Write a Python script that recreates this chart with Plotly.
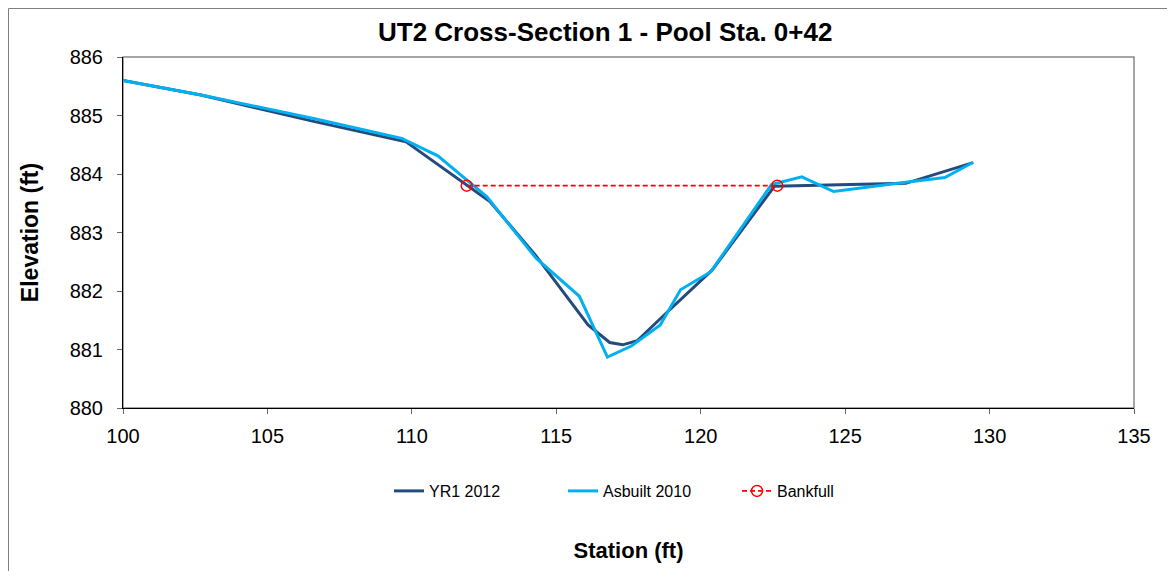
import plotly.graph_objects as go

# YR1 2012 survey
yr1_station = [100.0, 102.7, 106.6, 109.8, 112.7, 114.3, 116.1, 116.85, 117.3, 117.8, 118.8, 120.4, 122.55, 125.7, 127.1, 129.4]
yr1_elev = [885.60, 885.35, 884.90, 884.55, 883.53, 882.60, 881.42, 881.12, 881.08, 881.15, 881.62, 882.36, 883.79, 883.82, 883.84, 884.19]

# Asbuilt 2010 survey
asb_station = [100.0, 102.7, 106.6, 109.65, 110.9, 112.6, 114.3, 115.8, 116.77, 117.6, 118.6, 119.3, 120.35, 122.45, 123.5, 124.6, 127.1, 128.45, 129.44]
asb_elev = [885.60, 885.35, 884.95, 884.61, 884.31, 883.61, 882.56, 881.91, 880.87, 881.06, 881.42, 882.02, 882.33, 883.82, 883.95, 883.70, 883.86, 883.94, 884.20]

# Bankfull
bkf_station = [111.9, 122.65]
bkf_elev = [883.8, 883.8]

title_text = "UT2 Cross-Section 1 - Pool Sta. 0+42"
x_title = "Station (ft)"
y_title = "Elevation (ft)"

FONT = "Liberation Sans, Arial, sans-serif"

fig = go.Figure()
fig.add_trace(go.Scatter(x=yr1_station, y=yr1_elev, mode="lines", name="YR1 2012",
                         line=dict(color="#254A7E", width=3)))
fig.add_trace(go.Scatter(x=asb_station, y=asb_elev, mode="lines", name="Asbuilt 2010",
                         line=dict(color="#00B0F0", width=3)))
fig.add_trace(go.Scatter(x=bkf_station, y=bkf_elev, mode="lines+markers", name="Bankfull",
                         line=dict(color="#FF0000", width=1.8, dash="5px,3px"),
                         marker=dict(symbol="circle-open", size=11, color="#FF0000",
                                     line=dict(width=1.5, color="#FF0000"))))

OFF = 8  # page body offset
W, H = 1175, 571
# desired screen positions of the plot area
sl, sr, st, sb = 123, 1134, 57, 408
L = sl - OFF
T = st - OFF
R = W - (sr - OFF)
B = H - (sb - OFF)
pw = W - L - R
ph = H - T - B

def px_x(p):
    return (p - OFF - L) / pw

def px_y(p):
    return (H - B - (p - OFF)) / ph

fig.update_layout(
    width=W, height=H,
    margin=dict(l=L, r=R, t=T, b=B, pad=0),
    paper_bgcolor="white", plot_bgcolor="white",
    font=dict(family=FONT, size=16, color="black"),
    showlegend=True,
    legend=dict(orientation="h", x=px_x(389), y=px_y(474), xanchor="left", yanchor="top",
                font=dict(size=16, family=FONT, color="black"),
                entrywidth=129, entrywidthmode="pixels", bgcolor="rgba(0,0,0,0)"),
    annotations=[dict(text="<b>" + title_text + "</b>", x=px_x(605), y=px_y(32),
                      xref="paper", yref="paper", xanchor="center", yanchor="middle",
                      showarrow=False, font=dict(size=26, family=FONT, color="black"))],
    shapes=[
        dict(type="rect", xref="paper", yref="paper", x0=0, x1=1, y0=0, y1=1,
             line=dict(color="#888888", width=1.5), layer="below"),
        dict(type="rect", xref="paper", yref="paper", x0=px_x(8.5), x1=px_x(1195),
             y0=px_y(600), y1=px_y(8.5), line=dict(color="#808080", width=1), layer="below"),
    ],
)

fig.update_xaxes(range=[100, 135], tickmode="linear", tick0=100, dtick=5,
                 showgrid=False, zeroline=False, showline=True, linecolor="black", linewidth=1,
                 ticks="outside", ticklen=5, tickcolor="#666666", ticklabelstandoff=5,
                 tickfont=dict(size=20, family=FONT, color="black"),
                 title=dict(text="<b>" + x_title + "</b>", standoff=96,
                            font=dict(size=22, family=FONT, color="black")))
fig.update_yaxes(range=[880, 886], tickmode="linear", tick0=880, dtick=1,
                 showgrid=False, zeroline=False, showline=True, linecolor="black", linewidth=1,
                 ticks="outside", ticklen=5, tickcolor="#666666", ticklabelstandoff=10,
                 tickfont=dict(size=20, family=FONT, color="black"),
                 title=dict(text="<b>" + y_title + "</b>", standoff=24,
                            font=dict(size=23, family=FONT, color="black")))

fig.write_html("out.html")
